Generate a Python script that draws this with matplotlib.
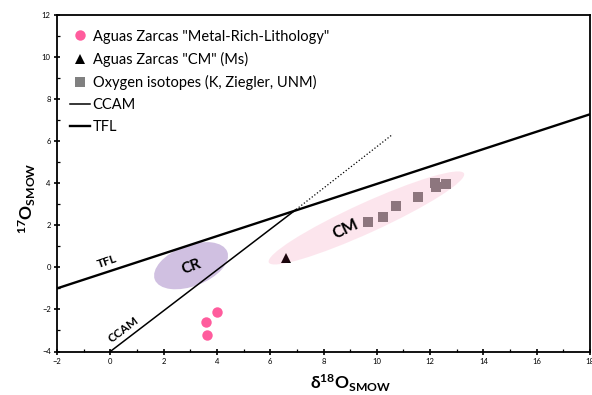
import matplotlib
matplotlib.use("Agg")
import matplotlib.pyplot as plt
from matplotlib.patches import Ellipse
from matplotlib.transforms import Affine2D, ScaledTranslation
from matplotlib.ticker import MultipleLocator

plt.rcParams['font.family'] = ['Lato', 'DejaVu Sans']
plt.rcParams['mathtext.fontset'] = 'custom'
plt.rcParams['mathtext.rm'] = 'Lato:bold'
plt.rcParams['mathtext.bf'] = 'Lato:bold'
plt.rcParams['mathtext.it'] = 'Lato:bold'

# data
metal_x = [4.0, 3.58, 3.62]
metal_y = [-2.1, -2.6, -3.22]
cm_tri_x = [6.6]
cm_tri_y = [0.45]
oxy_x = [9.66, 10.24, 10.71, 11.53, 12.18, 12.22, 12.6]
oxy_y = [2.17, 2.41, 2.93, 3.36, 4.0, 3.84, 3.95]
ccam_x = [0.0, 6.97]
ccam_y = [-4.0, 2.75]
ccam_ext_x = [6.97, 10.6]
ccam_ext_y = [2.75, 6.33]
tfl_x = [-2.0, 18.0]
tfl_y = [-1.0, 7.28]

x_ticks = list(range(-2, 19, 2))
y_ticks = list(range(-4, 13, 2))


def main():
    fig = plt.figure(figsize=(5.92, 3.95), dpi=100)
    ax = fig.add_axes([57 / 592, 1 - 351.5 / 395, 533 / 592, 336.5 / 395])

    ax.plot(metal_x, metal_y, 'o', color='#ff5c9d', markersize=7.5,
            markeredgewidth=0, label='Aguas Zarcas "Metal-Rich-Lithology"', zorder=3)
    ax.plot(cm_tri_x, cm_tri_y, '^', color='black', markersize=6.5,
            markeredgewidth=0, label='Aguas Zarcas "CM" (Ms)', zorder=3)
    ax.plot(oxy_x, oxy_y, 's', color='#808080', markersize=6.5,
            markeredgewidth=0, label='Oxygen isotopes (K, Ziegler, UNM)', zorder=3)
    ax.plot(ccam_x, ccam_y, '-', color='black', linewidth=1.1, label='CCAM', zorder=4)
    ax.plot(ccam_ext_x, ccam_ext_y, ':', color='black', linewidth=0.9, zorder=4)
    ax.plot(tfl_x, tfl_y, '-', color='black', linewidth=1.7, label='TFL', zorder=4)

    ax.set_xlim(-2, 18)
    ax.set_ylim(-4, 12)

    # ellipses: centre in data units, size in points
    size_tr = Affine2D().scale(fig.dpi / 72)
    cr = Ellipse((0, 0), 55.9, 29.4, angle=21, facecolor='#d0c0e1',
                 edgecolor='none', zorder=2,
                 transform=size_tr + ScaledTranslation(3.03, 0.08, ax.transData))
    ax.add_patch(cr)
    cm = Ellipse((0, 0), 154.5, 21.6, angle=24.5, facecolor='#ec3070',
                 alpha=0.12, edgecolor='none', zorder=3.5,
                 transform=size_tr + ScaledTranslation(9.61, 2.35, ax.transData))
    ax.add_patch(cm)

    ax.text(3.03, 0.02, 'CR', fontsize=11, fontweight='bold', rotation=20,
            ha='center', va='center', rotation_mode='anchor', zorder=5)
    ax.text(8.83, 1.83, 'CM', fontsize=12, fontweight='bold', rotation=25,
            ha='center', va='center', rotation_mode='anchor', zorder=5)
    ax.text(-0.13, 0.27, 'TFL', fontsize=8.5, fontweight='bold', rotation=19,
            ha='center', va='center', rotation_mode='anchor', zorder=5)
    ax.text(0.51, -2.94, 'CCAM', fontsize=8.5, fontweight='bold', rotation=37,
            ha='center', va='center', rotation_mode='anchor', zorder=5)

    ax.set_xticks(x_ticks)
    ax.set_yticks(y_ticks)
    ax.xaxis.set_minor_locator(MultipleLocator(1))
    ax.yaxis.set_minor_locator(MultipleLocator(1))
    ax.tick_params(which='major', direction='inout', length=5, width=1.2,
                   labelsize=5.5, pad=2)
    ax.tick_params(which='minor', direction='in', length=2.5, width=0.9)
    for s in ax.spines.values():
        s.set_linewidth(1.3)

    ax.set_xlabel(r'δ$^{18}$O$_{SMOW}$', fontsize=12.5, fontweight='bold',
                  va='center')
    ax.set_ylabel(r'$^{17}$O$_{SMOW}$', fontsize=12.5, fontweight='bold',
                  va='center')
    ax.xaxis.set_label_coords(0.55, -0.094)
    ax.yaxis.set_label_coords(-0.055, 0.456)

    ax.legend(loc='upper left', bbox_to_anchor=(-0.003, 1.0), frameon=False,
              fontsize=10.5, handlelength=1.4, handletextpad=0.15,
              labelspacing=0.55, borderaxespad=0.6)

    fig.savefig('out.png', dpi=100)


if __name__ == "__main__":
    main()
